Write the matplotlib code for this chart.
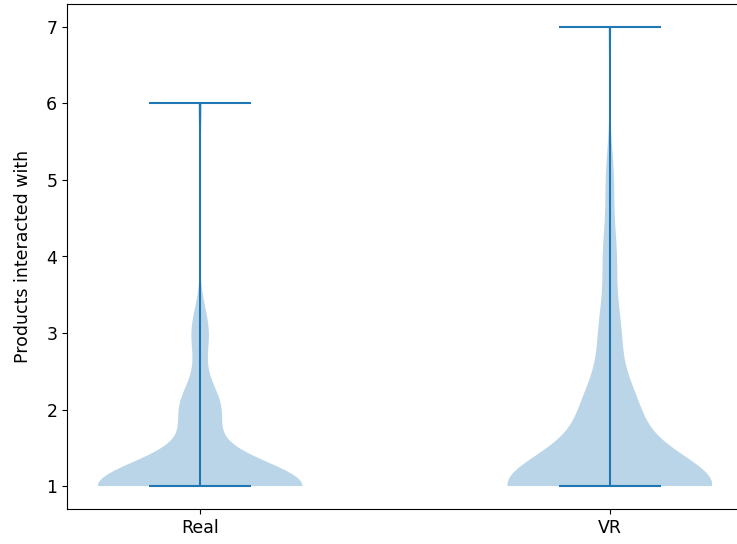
import matplotlib
matplotlib.use("Agg")
import matplotlib.pyplot as plt

# products interacted with, per participant
real_values = [1] * 60 + [2] * 12 + [3] * 5 + [6] * 1
vr_values = [1] * 80 + [2] * 20 + [3] * 8 + [4] * 5 + [5] * 3 + [7] * 1
labels = ["Real", "VR"]

plt.rcParams['font.size'] = 12.5

fig = plt.figure(figsize=(7.37, 5.44), dpi=100)
ax = fig.add_axes([67 / 737, 35 / 544, 676 / 737, 505 / 544])

ax.violinplot([real_values, vr_values])
ax.set_xticks([1, 2])
ax.set_xticklabels(labels)
ax.set_ylabel("Products interacted with", labelpad=10)

plt.savefig("out.png", dpi=100)
plt.close(fig)
